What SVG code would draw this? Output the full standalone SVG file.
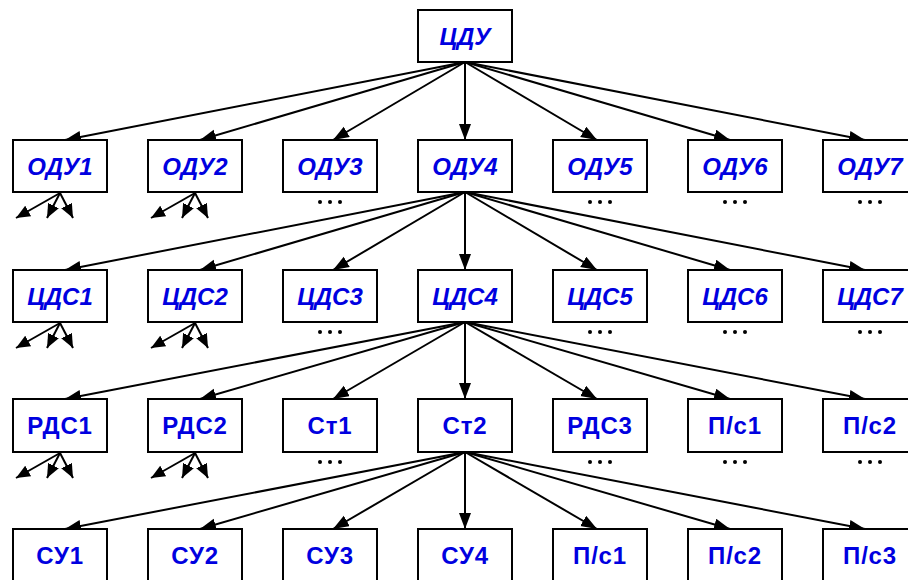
<svg xmlns="http://www.w3.org/2000/svg" width="908" height="580" viewBox="0 0 908 580">
<defs>
<marker id="ah" markerUnits="userSpaceOnUse" markerWidth="18" markerHeight="14" refX="16" refY="6" orient="auto">
<path d="M0,0 L16,6 L0,12 z" fill="#000"/>
</marker>
<marker id="sh" markerUnits="userSpaceOnUse" markerWidth="16" markerHeight="14" refX="14" refY="6" orient="auto">
<path d="M0,0 L14,6 L0,12 z" fill="#000"/>
</marker>
<style>
.b{fill:#fff;stroke:#000;stroke-width:2}
.t{font-family:"Liberation Sans",Arial,sans-serif;font-weight:bold;font-size:24px;fill:#0000e0;text-anchor:middle}
.i{font-style:italic}
.n{letter-spacing:0.8px}
.c line{stroke:#000;stroke-width:2;marker-end:url(#ah)}
.f line{stroke:#000;stroke-width:2;marker-end:url(#sh)}
.d circle{fill:#000}
</style>
</defs>
<rect width="908" height="580" fill="#fff"/>
<g id="connectors" class="c">
<line x1="465" y1="62" x2="65" y2="140"/>
<line x1="465" y1="62" x2="200" y2="140"/>
<line x1="465" y1="62" x2="333" y2="140"/>
<line x1="465" y1="62" x2="465" y2="140"/>
<line x1="465" y1="62" x2="597" y2="140"/>
<line x1="465" y1="62" x2="730" y2="140"/>
<line x1="465" y1="62" x2="865" y2="140"/>
<line x1="465" y1="192" x2="65" y2="270"/>
<line x1="465" y1="192" x2="200" y2="270"/>
<line x1="465" y1="192" x2="333" y2="270"/>
<line x1="465" y1="192" x2="465" y2="270"/>
<line x1="465" y1="192" x2="597" y2="270"/>
<line x1="465" y1="192" x2="730" y2="270"/>
<line x1="465" y1="192" x2="865" y2="270"/>
<line x1="465" y1="322" x2="65" y2="399"/>
<line x1="465" y1="322" x2="200" y2="399"/>
<line x1="465" y1="322" x2="333" y2="399"/>
<line x1="465" y1="322" x2="465" y2="399"/>
<line x1="465" y1="322" x2="597" y2="399"/>
<line x1="465" y1="322" x2="730" y2="399"/>
<line x1="465" y1="322" x2="865" y2="399"/>
<line x1="465" y1="452" x2="65" y2="529"/>
<line x1="465" y1="452" x2="200" y2="529"/>
<line x1="465" y1="452" x2="333" y2="529"/>
<line x1="465" y1="452" x2="465" y2="529"/>
<line x1="465" y1="452" x2="597" y2="529"/>
<line x1="465" y1="452" x2="730" y2="529"/>
<line x1="465" y1="452" x2="865" y2="529"/>
</g>
<g id="fans" class="f">
<line x1="60" y1="193" x2="16" y2="218"/><line x1="60" y1="193" x2="47" y2="218"/><line x1="60" y1="193" x2="73" y2="218"/>
<line x1="195" y1="193" x2="151" y2="218"/><line x1="195" y1="193" x2="182" y2="218"/><line x1="195" y1="193" x2="208" y2="218"/>
<line x1="60" y1="323" x2="16" y2="348"/><line x1="60" y1="323" x2="47" y2="348"/><line x1="60" y1="323" x2="73" y2="348"/>
<line x1="195" y1="323" x2="151" y2="348"/><line x1="195" y1="323" x2="182" y2="348"/><line x1="195" y1="323" x2="208" y2="348"/>
<line x1="60" y1="453" x2="16" y2="478"/><line x1="60" y1="453" x2="47" y2="478"/><line x1="60" y1="453" x2="73" y2="478"/>
<line x1="195" y1="453" x2="151" y2="478"/><line x1="195" y1="453" x2="182" y2="478"/><line x1="195" y1="453" x2="208" y2="478"/>
</g>
<g id="dots" class="d">
<circle cx="320" cy="202" r="2"/><circle cx="330" cy="202" r="2"/><circle cx="340" cy="202" r="2"/>
<circle cx="590" cy="202" r="2"/><circle cx="600" cy="202" r="2"/><circle cx="610" cy="202" r="2"/>
<circle cx="725" cy="202" r="2"/><circle cx="735" cy="202" r="2"/><circle cx="745" cy="202" r="2"/>
<circle cx="860" cy="202" r="2"/><circle cx="870" cy="202" r="2"/><circle cx="880" cy="202" r="2"/>
<circle cx="320" cy="332" r="2"/><circle cx="330" cy="332" r="2"/><circle cx="340" cy="332" r="2"/>
<circle cx="590" cy="332" r="2"/><circle cx="600" cy="332" r="2"/><circle cx="610" cy="332" r="2"/>
<circle cx="725" cy="332" r="2"/><circle cx="735" cy="332" r="2"/><circle cx="745" cy="332" r="2"/>
<circle cx="860" cy="332" r="2"/><circle cx="870" cy="332" r="2"/><circle cx="880" cy="332" r="2"/>
<circle cx="320" cy="462" r="2"/><circle cx="330" cy="462" r="2"/><circle cx="340" cy="462" r="2"/>
<circle cx="590" cy="462" r="2"/><circle cx="600" cy="462" r="2"/><circle cx="610" cy="462" r="2"/>
<circle cx="725" cy="462" r="2"/><circle cx="735" cy="462" r="2"/><circle cx="745" cy="462" r="2"/>
<circle cx="860" cy="462" r="2"/><circle cx="870" cy="462" r="2"/><circle cx="880" cy="462" r="2"/>
</g>
<g id="n-cdu"><rect class="b" x="418" y="10" width="94" height="52"/><text class="t i" x="465" y="45">ЦДУ</text></g>
<g id="n-odu1"><rect class="b" x="13" y="140" width="94" height="52"/><text class="t i" x="60" y="175">ОДУ1</text></g>
<g id="n-odu2"><rect class="b" x="148" y="140" width="94" height="52"/><text class="t i" x="195" y="175">ОДУ2</text></g>
<g id="n-odu3"><rect class="b" x="283" y="140" width="94" height="52"/><text class="t i" x="330" y="175">ОДУ3</text></g>
<g id="n-odu4"><rect class="b" x="418" y="140" width="94" height="52"/><text class="t i" x="465" y="175">ОДУ4</text></g>
<g id="n-odu5"><rect class="b" x="553" y="140" width="94" height="52"/><text class="t i" x="600" y="175">ОДУ5</text></g>
<g id="n-odu6"><rect class="b" x="688" y="140" width="94" height="52"/><text class="t i" x="735" y="175">ОДУ6</text></g>
<g id="n-odu7"><rect class="b" x="823" y="140" width="94" height="52"/><text class="t i" x="870" y="175">ОДУ7</text></g>
<g id="n-cds1"><rect class="b" x="13" y="270" width="94" height="52"/><text class="t i" x="60" y="305">ЦДС1</text></g>
<g id="n-cds2"><rect class="b" x="148" y="270" width="94" height="52"/><text class="t i" x="195" y="305">ЦДС2</text></g>
<g id="n-cds3"><rect class="b" x="283" y="270" width="94" height="52"/><text class="t i" x="330" y="305">ЦДС3</text></g>
<g id="n-cds4"><rect class="b" x="418" y="270" width="94" height="52"/><text class="t i" x="465" y="305">ЦДС4</text></g>
<g id="n-cds5"><rect class="b" x="553" y="270" width="94" height="52"/><text class="t i" x="600" y="305">ЦДС5</text></g>
<g id="n-cds6"><rect class="b" x="688" y="270" width="94" height="52"/><text class="t i" x="735" y="305">ЦДС6</text></g>
<g id="n-cds7"><rect class="b" x="823" y="270" width="94" height="52"/><text class="t i" x="870" y="305">ЦДС7</text></g>
<g id="n-rds1"><rect class="b" x="13" y="399" width="94" height="53"/><text class="t n" x="60" y="434">РДС1</text></g>
<g id="n-rds2"><rect class="b" x="148" y="399" width="94" height="53"/><text class="t n" x="195" y="434">РДС2</text></g>
<g id="n-st1"><rect class="b" x="283" y="399" width="94" height="53"/><text class="t n" x="330" y="434">Ст1</text></g>
<g id="n-st2"><rect class="b" x="418" y="399" width="94" height="53"/><text class="t n" x="465" y="434">Ст2</text></g>
<g id="n-rds3"><rect class="b" x="553" y="399" width="94" height="53"/><text class="t n" x="600" y="434">РДС3</text></g>
<g id="n-ps1a"><rect class="b" x="688" y="399" width="94" height="53"/><text class="t n" x="735" y="434">П/с1</text></g>
<g id="n-ps2a"><rect class="b" x="823" y="399" width="94" height="53"/><text class="t n" x="870" y="434">П/с2</text></g>
<g id="n-su1"><rect class="b" x="13" y="529" width="94" height="60"/><text class="t n" x="60" y="564">СУ1</text></g>
<g id="n-su2"><rect class="b" x="148" y="529" width="94" height="60"/><text class="t n" x="195" y="564">СУ2</text></g>
<g id="n-su3"><rect class="b" x="283" y="529" width="94" height="60"/><text class="t n" x="330" y="564">СУ3</text></g>
<g id="n-su4"><rect class="b" x="418" y="529" width="94" height="60"/><text class="t n" x="465" y="564">СУ4</text></g>
<g id="n-ps1"><rect class="b" x="553" y="529" width="94" height="60"/><text class="t n" x="600" y="564">П/с1</text></g>
<g id="n-ps2"><rect class="b" x="688" y="529" width="94" height="60"/><text class="t n" x="735" y="564">П/с2</text></g>
<g id="n-ps3"><rect class="b" x="823" y="529" width="94" height="60"/><text class="t n" x="870" y="564">П/с3</text></g>
</svg>
